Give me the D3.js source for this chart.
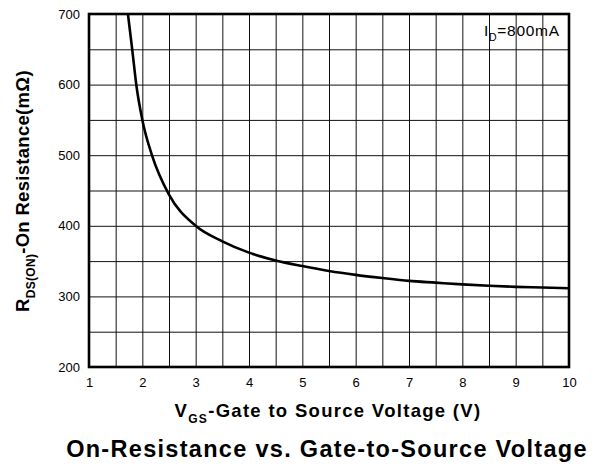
<!DOCTYPE html>
<html>
<head>
<meta charset="utf-8">
<script src="https://cdn.jsdelivr.net/npm/d3@7"></script>
<style>
  body { margin: 0; background: #fff; }
  text { font-family: "Liberation Sans", Arial, sans-serif; }
</style>
</head>
<body>
<svg id="chart" width="601" height="468"></svg>
<script>
var vgs  = [1.73, 1.81, 1.89, 2.0, 2.18, 2.5, 3.0, 3.5, 4.0, 4.5, 5.0, 5.5, 6.0, 6.5, 7.0, 7.5, 8.0, 8.5, 9.0, 9.5, 10];
var rdson = [700, 650, 598, 550, 500, 444, 400, 378, 362, 351, 343, 336, 330.5, 326, 322, 319.5, 317, 315, 313.5, 312.5, 311.5];
var xTicks = [1, 2, 3, 4, 5, 6, 7, 8, 9, 10];
var yTicks = [200, 300, 400, 500, 600, 700];

var m = [14, 32, 101, 89],
  w = 569 - m[3],
  h = 367 - m[0];

var svg = d3.select("#chart");
var g = svg.append("g").attr("transform", "translate(" + m[3] + "," + m[0] + ")");

var x = d3.scaleLinear().domain([1, 10]).range([0, w]);
var y = d3.scaleLinear().domain([200, 700]).range([h, 0]);

// grid every 0.5 V and every 50 mOhm
g.append("g")
  .call(d3.axisBottom(x).tickValues(d3.range(1.5, 10, 0.5)).tickSize(-h).tickFormat(""))
  .attr("transform", "translate(0," + h + ")")
  .call(function(a) { a.select(".domain").remove(); a.selectAll("line").attr("stroke", "#111"); });
g.append("g")
  .call(d3.axisLeft(y).tickValues(d3.range(250, 700, 50)).tickSize(-w).tickFormat(""))
  .call(function(a) { a.select(".domain").remove(); a.selectAll("line").attr("stroke", "#111"); });

// tick labels
g.append("g")
  .attr("transform", "translate(0," + h + ")")
  .call(d3.axisBottom(x).tickValues(xTicks).tickSize(0).tickPadding(11).tickFormat(d3.format("d")))
  .call(function(a) { a.select(".domain").remove(); a.selectAll("text").attr("font-size", 13).attr("fill", "#000").style("font-family", "Liberation Sans, Arial"); });
g.append("g")
  .call(d3.axisLeft(y).tickValues(yTicks).tickSize(0).tickPadding(9).tickFormat(d3.format("d")))
  .call(function(a) { a.select(".domain").remove(); a.selectAll("text").attr("font-size", 13).attr("fill", "#000").style("font-family", "Liberation Sans, Arial"); });

// curve
var line = d3.line()
  .x(function(d, i) { return x(vgs[i]); })
  .y(function(d) { return y(d); })
  .curve(d3.curveMonotoneX);
g.append("path")
  .datum(rdson)
  .attr("fill", "none")
  .attr("stroke", "#000")
  .attr("stroke-width", 2.6)
  .attr("d", line);

// frame
g.append("rect")
  .attr("width", w).attr("height", h)
  .attr("fill", "none").attr("stroke", "#000").attr("stroke-width", 2.6);

// legend
var leg = g.append("text").attr("x", 395).attr("y", 22).attr("font-size", 15.5).attr("letter-spacing", 0.7);
leg.append("tspan").text("I");
leg.append("tspan").attr("font-size", 10.5).attr("dy", 5).text("D");
leg.append("tspan").attr("dy", -5).text("=800mA");

// x title
var xt = svg.append("text").attr("x", 328).attr("y", 417).attr("text-anchor", "middle")
  .attr("font-size", 18.5).attr("font-weight", "bold").attr("letter-spacing", 1.3);
xt.append("tspan").text("V");
xt.append("tspan").attr("font-size", 12).attr("dy", 6).text("GS");
xt.append("tspan").attr("dy", -6).text("-Gate to Source Voltage (V)");

// y title
var yt = svg.append("text").attr("transform", "translate(29,191) rotate(-90)").attr("text-anchor", "middle")
  .attr("font-size", 18.5).attr("font-weight", "bold").attr("letter-spacing", 0.3);
yt.append("tspan").text("R");
yt.append("tspan").attr("font-size", 12).attr("dy", 6).text("DS(ON)");
yt.append("tspan").attr("dy", -6).text("-On Resistance(m\u03A9)");

// chart title
svg.append("text").attr("x", 327).attr("y", 457).attr("text-anchor", "middle")
  .attr("font-size", 23.5).attr("font-weight", "bold").attr("letter-spacing", 1.3)
  .text("On-Resistance vs. Gate-to-Source Voltage");
</script>
</body>
</html>
